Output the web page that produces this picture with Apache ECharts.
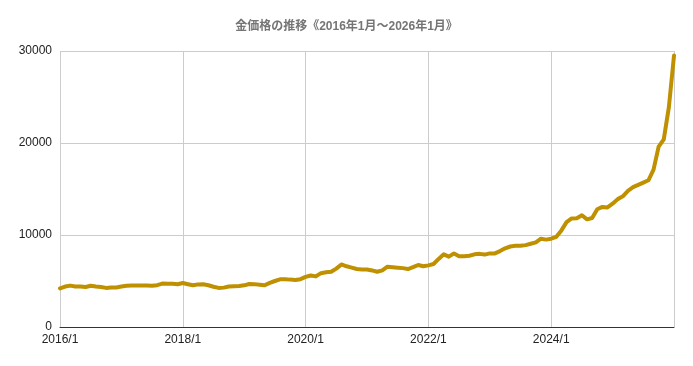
<!DOCTYPE html>
<html><head><meta charset="utf-8">
<script src="https://cdn.jsdelivr.net/npm/echarts@6/dist/echarts.min.js"></script>
<style>html,body{margin:0;padding:0;background:#fff}#c{width:693px;height:366px}</style>
</head><body><div id="c"></div>
<script>
const titleText = '金価格の推移《2016年1月～2026年1月》';
const startYear = 2016;
const monthCount = 121;
const categories = [];
for (let i = 0; i < monthCount; i++) {
  categories.push((startYear + Math.floor(i / 12)) + '/' + (i % 12 + 1));
}
const prices2016 = [4200,4400,4500,4400,4400,4350,4480,4400,4350,4250,4300,4300];
const prices2017 = [4400,4480,4500,4500,4510,4500,4490,4550,4720,4700,4700,4650];
const prices2018 = [4780,4650,4530,4630,4640,4540,4380,4250,4280,4400,4440,4460];
const prices2019 = [4530,4680,4660,4600,4530,4800,5000,5180,5200,5150,5120,5200];
const prices2020 = [5450,5600,5500,5850,5950,6000,6350,6800,6600,6450,6300,6250];
const prices2021 = [6250,6150,6000,6150,6550,6500,6450,6400,6300,6500,6740,6600];
const prices2022 = [6700,6850,7400,7900,7650,8000,7700,7700,7750,7900,7950,7870];
const prices2023 = [8000,8000,8250,8550,8750,8820,8830,8900,9050,9200,9600,9500];
const prices2024 = [9600,9800,10500,11400,11800,11820,12150,11700,11850,12800,13050,13000];
const prices2025 = [13400,13900,14200,14800,15200,15450,15700,15950,17100,19600,20400,23900];
const prices2026 = [29500];
const prices = [].concat(prices2016,prices2017,prices2018,prices2019,prices2020,prices2021,prices2022,prices2023,prices2024,prices2025,prices2026);
const yTicks = [0, 10000, 20000, 30000];

const chart = echarts.init(document.getElementById('c'), null, {renderer: 'canvas'});
chart.setOption({
  animation: false,
  textStyle: {fontFamily: 'Liberation Sans, Arial, sans-serif'},
  title: {
    text: titleText, left: 'center', top: 16,
    textStyle: {fontSize: 12, fontWeight: 'bold', color: '#757575', fontFamily: 'Liberation Sans, "Noto Sans CJK JP", sans-serif'}
  },
  grid: {left: 60, right: 19, top: 51, bottom: 39, containLabel: false},
  xAxis: {
    type: 'category', data: categories, boundaryGap: false,
    axisLine: {show: true, lineStyle: {color: '#333', width: 1}},
    axisTick: {show: false},
    axisLabel: {
      interval: function (i) { return i % 24 === 0 && i < 120; },
      color: '#222', fontSize: 12, margin: 7
    },
    splitLine: {show: true, interval: function (i) { return i % 24 === 0; }, lineStyle: {color: '#ccc', width: 1}}
  },
  yAxis: {
    type: 'value', min: yTicks[0], max: yTicks[yTicks.length - 1], interval: 10000,
    axisLine: {show: false}, axisTick: {show: false},
    axisLabel: {color: '#222', fontSize: 12, margin: 8, formatter: function (v) { return String(v); }},
    splitLine: {lineStyle: {color: '#ccc', width: 1}}
  },
  series: [{
    type: 'line', data: prices, symbol: 'none', smooth: false,
    lineStyle: {color: '#bf9000', width: 4, join: 'round', cap: 'round'},
    itemStyle: {color: '#bf9000'}
  }]
});
</script></body></html>
